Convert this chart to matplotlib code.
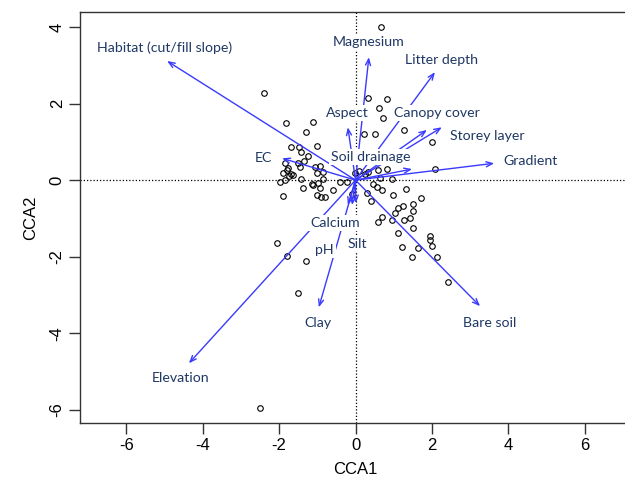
import matplotlib
matplotlib.use("Agg")
import matplotlib.pyplot as plt

# Site scores (CCA1, CCA2)
site_x = [0.67, 0.33, 0.82, 0.62, 0.72, -2.40, -1.82, -1.11, -1.30, 0.22, 0.51, 1.27, 2.00,
          -1.01, -1.69, -1.48, -1.43, -1.24, -1.35, -1.51, -1.45, -1.85, -1.77, -1.90, -1.69,
          -1.98, -1.43, -1.06, -0.93, -0.85, -0.85, -0.98, -1.11, -1.37, -1.90, -1.01, -0.90,
          -0.80, -0.59, -0.41, -0.22, -0.01, 0.33, 0.59, 0.82, 0.96, 0.64, 0.46, 0.30, 0.56,
          0.69, 0.98, 1.32, 1.71, 1.51, 1.24, 1.11, 1.03, 1.51, 0.69, 0.59, 0.96, 1.27, 1.43,
          1.51, 1.11, 1.95, 1.95, 2.00, 1.64, 1.22, 1.48, 2.13, -2.05, -1.79, -1.30, -1.51,
          2.42, -2.50, 2.08, -1.79, -1.74, -1.85, -1.64, -1.14, -0.93, -1.01, 0.08, 0.25,
          -0.10, 0.40]
site_y = [3.99, 2.14, 2.11, 1.88, 1.62, 2.27, 1.49, 1.51, 1.25, 1.20, 1.20, 1.31, 0.99,
          0.89, 0.86, 0.86, 0.73, 0.63, 0.50, 0.44, 0.34, 0.44, 0.31, 0.18, 0.16,
          -0.05, 0.03, 0.34, 0.37, 0.21, 0.03, -0.08, -0.13, -0.21, -0.42, -0.39, -0.44,
          -0.44, -0.26, -0.05, -0.05, 0.18, 0.21, 0.26, 0.29, 0.03, 0.05, -0.10, -0.34, -0.18,
          -0.26, -0.39, -0.23, -0.47, -0.63, -0.68, -0.73, -0.86, -0.81, -0.97, -1.10, -1.04,
          -1.04, -0.99, -1.25, -1.38, -1.46, -1.57, -1.72, -1.78, -1.75, -2.01, -2.01, -1.64,
          -1.98, -2.11, -2.95, -2.66, -5.95, 0.29, 0.26, 0.10, 0.00, 0.13, -0.10, -0.21, 0.18,
          0.25, 0.15, -0.35, -0.55]

# Environmental vectors
env_names = ["Habitat (cut/fill slope)", "Magnesium", "Litter depth", "Aspect", "Canopy cover",
             "Storey layer", "Gradient", "EC", "Soil drainage", "Bare soil", "Elevation",
             "Clay", "Calcium", "pH", "Silt"]
env_x = [-4.93, 0.35, 2.08, -0.20, 1.87, 2.26, 3.63, -1.92, 1.48, 3.26, -4.36, -0.96, -0.20, -0.09, 0.01]
env_y = [3.11, 3.21, 2.82, 1.38, 1.31, 1.38, 0.44, 0.57, 0.29, -3.29, -4.78, -3.32, -0.65, -0.65, -0.60]
label_x = [-4.99, 0.35, 2.24, -0.22, 2.13, 3.44, 4.57, -2.40, 0.41, 3.52, -4.59, -0.98, -0.54, -0.82, 0.04]
label_y = [3.47, 3.60, 3.13, 1.75, 1.75, 1.15, 0.50, 0.57, 0.60, -3.73, -5.17, -3.73, -1.12, -1.83, -1.67]

xticks = [-6, -4, -2, 0, 2, 4, 6]
yticks = [-6, -4, -2, 0, 2, 4]

fig = plt.figure(figsize=(6.25, 4.86), dpi=100)
ax = fig.add_axes([80 / 625, (486 - 423) / 486, 551 / 625, 411 / 486])
ax.set_xlim(-7.21, 7.21)
ax.set_ylim(-6.34, 4.39)

ax.axhline(0, color="black", lw=0.9, ls=(0, (1, 1.6)), zorder=1)
ax.axvline(0, color="black", lw=0.9, ls=(0, (1, 1.6)), zorder=1)

ax.plot(site_x, site_y, ls="none", marker="o", mfc="none", mec="black", ms=4, mew=0.8, zorder=2)

arrow_col = "#3a3aff"
for ex, ey in zip(env_x, env_y):
    ax.annotate("", xy=(ex, ey), xytext=(0, 0),
                arrowprops=dict(arrowstyle="->,head_length=0.45,head_width=0.18",
                                color=arrow_col, lw=1.0, shrinkA=0, shrinkB=0),
                zorder=3)

text_col = "#1f3864"
for name, lx, ly in zip(env_names, label_x, label_y):
    ax.text(lx, ly, name, ha="center", va="center", color=text_col, fontsize=10.2,
            family="Lato", zorder=5,
            bbox=dict(facecolor="white", edgecolor="none", pad=1.5))

ax.set_xticks(xticks)
ax.set_yticks(yticks)
ax.set_xticklabels([str(v) for v in xticks])
ax.set_yticklabels([str(v) for v in yticks], rotation=90, va="center")
for lab in ax.get_xticklabels() + ax.get_yticklabels():
    lab.set_family("Liberation Sans")
    lab.set_fontsize(12)
ax.tick_params(direction="out", length=8, width=1, pad=3, color="#333333")
ax.set_xlabel("CCA1", family="Liberation Sans", fontsize=12, labelpad=6)
ax.set_ylabel("CCA2", family="Liberation Sans", fontsize=12, labelpad=8)
for s in ax.spines.values():
    s.set_linewidth(1.0)
    s.set_color("#333333")

fig.savefig("out.png", dpi=100)
